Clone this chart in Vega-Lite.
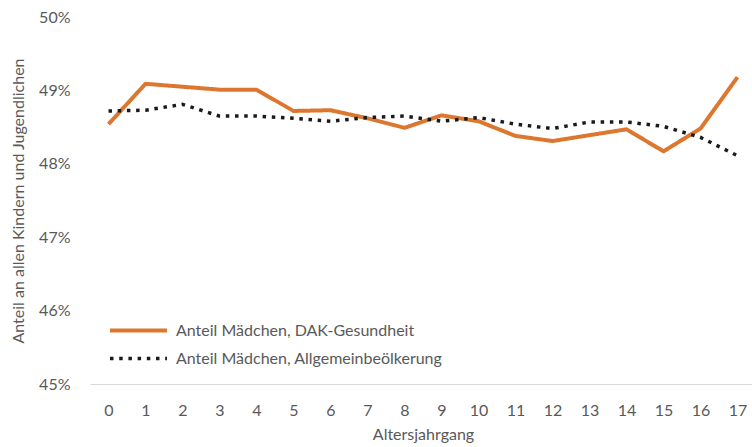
{
  "$schema": "https://vega.github.io/schema/vega-lite/v6.json",
  "autosize": "none",
  "width": 666,
  "height": 367,
  "padding": {"left": 90, "top": 17, "right": 0, "bottom": 63},
  "background": "white",
  "config": {
    "view": {"stroke": null},
    "font": "Lato",
    "axis": {"labelFont": "Lato", "titleFont": "Lato", "labelColor": "#595959", "titleColor": "#595959", "labelFontSize": 16, "titleFontSize": 16, "titleFontWeight": "normal", "grid": false, "ticks": false},
    "legend": {"labelFont": "Lato", "labelFontSize": 16, "labelColor": "#595959", "labelLimit": 500}
  },
  "data": {"values": [
    {"age": 0, "series": "Anteil Mädchen, DAK-Gesundheit", "value": 0.4854},
    {"age": 1, "series": "Anteil Mädchen, DAK-Gesundheit", "value": 0.4909},
    {"age": 2, "series": "Anteil Mädchen, DAK-Gesundheit", "value": 0.4905},
    {"age": 3, "series": "Anteil Mädchen, DAK-Gesundheit", "value": 0.4901},
    {"age": 4, "series": "Anteil Mädchen, DAK-Gesundheit", "value": 0.4901},
    {"age": 5, "series": "Anteil Mädchen, DAK-Gesundheit", "value": 0.4872},
    {"age": 6, "series": "Anteil Mädchen, DAK-Gesundheit", "value": 0.4873},
    {"age": 7, "series": "Anteil Mädchen, DAK-Gesundheit", "value": 0.4862},
    {"age": 8, "series": "Anteil Mädchen, DAK-Gesundheit", "value": 0.4849},
    {"age": 9, "series": "Anteil Mädchen, DAK-Gesundheit", "value": 0.4866},
    {"age": 10, "series": "Anteil Mädchen, DAK-Gesundheit", "value": 0.4858},
    {"age": 11, "series": "Anteil Mädchen, DAK-Gesundheit", "value": 0.4838},
    {"age": 12, "series": "Anteil Mädchen, DAK-Gesundheit", "value": 0.4831},
    {"age": 13, "series": "Anteil Mädchen, DAK-Gesundheit", "value": 0.4839},
    {"age": 14, "series": "Anteil Mädchen, DAK-Gesundheit", "value": 0.4847},
    {"age": 15, "series": "Anteil Mädchen, DAK-Gesundheit", "value": 0.4817},
    {"age": 16, "series": "Anteil Mädchen, DAK-Gesundheit", "value": 0.4848},
    {"age": 17, "series": "Anteil Mädchen, DAK-Gesundheit", "value": 0.4918},
    {"age": 0, "series": "Anteil Mädchen, Allgemeinbeölkerung", "value": 0.4872},
    {"age": 1, "series": "Anteil Mädchen, Allgemeinbeölkerung", "value": 0.4873},
    {"age": 2, "series": "Anteil Mädchen, Allgemeinbeölkerung", "value": 0.4881},
    {"age": 3, "series": "Anteil Mädchen, Allgemeinbeölkerung", "value": 0.4865},
    {"age": 4, "series": "Anteil Mädchen, Allgemeinbeölkerung", "value": 0.4865},
    {"age": 5, "series": "Anteil Mädchen, Allgemeinbeölkerung", "value": 0.4862},
    {"age": 6, "series": "Anteil Mädchen, Allgemeinbeölkerung", "value": 0.4858},
    {"age": 7, "series": "Anteil Mädchen, Allgemeinbeölkerung", "value": 0.4863},
    {"age": 8, "series": "Anteil Mädchen, Allgemeinbeölkerung", "value": 0.4865},
    {"age": 9, "series": "Anteil Mädchen, Allgemeinbeölkerung", "value": 0.4858},
    {"age": 10, "series": "Anteil Mädchen, Allgemeinbeölkerung", "value": 0.4863},
    {"age": 11, "series": "Anteil Mädchen, Allgemeinbeölkerung", "value": 0.4854},
    {"age": 12, "series": "Anteil Mädchen, Allgemeinbeölkerung", "value": 0.4848},
    {"age": 13, "series": "Anteil Mädchen, Allgemeinbeölkerung", "value": 0.4857},
    {"age": 14, "series": "Anteil Mädchen, Allgemeinbeölkerung", "value": 0.4857},
    {"age": 15, "series": "Anteil Mädchen, Allgemeinbeölkerung", "value": 0.4851},
    {"age": 16, "series": "Anteil Mädchen, Allgemeinbeölkerung", "value": 0.4836},
    {"age": 17, "series": "Anteil Mädchen, Allgemeinbeölkerung", "value": 0.4811}
  ]},
  "mark": {"type": "line", "strokeJoin": "round"},
  "encoding": {
    "x": {"field": "age", "type": "ordinal", "scale": {"type": "point", "padding": 0.5},
      "axis": {"title": "Altersjahrgang", "labelAngle": 0, "domainColor": "#D9D9D9", "domainWidth": 1, "labelPadding": 18, "titlePadding": 8}},
    "y": {"field": "value", "type": "quantitative", "scale": {"domain": [0.45, 0.5], "nice": false, "zero": false},
      "axis": {"title": "Anteil an allen Kindern und Jugendlichen", "format": ".0%", "values": [0.45, 0.46, 0.47, 0.48, 0.49, 0.5], "domain": false, "labelPadding": 20, "titlePadding": 12}},
    "color": {"field": "series", "type": "nominal", "sort": null,
      "scale": {"domain": ["Anteil Mädchen, DAK-Gesundheit", "Anteil Mädchen, Allgemeinbeölkerung"], "range": ["#DD772F", "#1A1A1A"]},
      "legend": {"title": null, "orient": "none", "legendX": 37, "legendY": 302, "symbolType": "M-3,0H3", "symbolSize": 361, "rowPadding": 8, "labelOffset": 26}},
    "strokeDash": {"field": "series", "type": "nominal", "sort": null,
      "scale": {"domain": ["Anteil Mädchen, DAK-Gesundheit", "Anteil Mädchen, Allgemeinbeölkerung"], "range": [[1, 0], [3.5, 5.7]]}},
    "strokeWidth": {"field": "series", "type": "nominal", "sort": null,
      "scale": {"domain": ["Anteil Mädchen, DAK-Gesundheit", "Anteil Mädchen, Allgemeinbeölkerung"], "range": [4, 3.5]}}
  }
}
